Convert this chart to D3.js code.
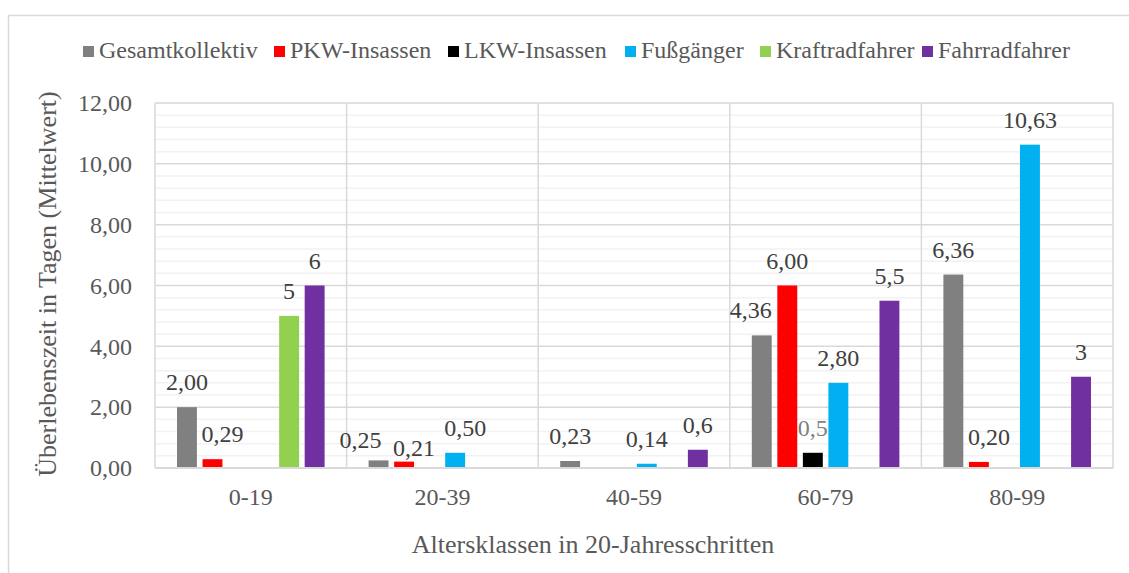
<!DOCTYPE html>
<html>
<head>
<meta charset="utf-8">
<script src="https://cdn.jsdelivr.net/npm/d3@7"></script>
<style>
  body { margin: 0; background: #fff; }
</style>
</head>
<body>
<svg width="1129" height="573" font-family="Liberation Serif"></svg>
<script>
var categories = ["0-19", "20-39", "40-59", "60-79", "80-99"]
var seriesNames = ["Gesamtkollektiv", "PKW-Insassen", "LKW-Insassen", "Fußgänger", "Kraftradfahrer", "Fahrradfahrer"]
var colors = ["#808080", "#ff0000", "#000000", "#00b0f0", "#92d050", "#7030a0"]

// values per series, one per age class (null = no bar)
var gesamt = [2.00, 0.25, 0.23, 4.36, 6.36]
var pkw = [0.29, 0.21, null, 6.00, 0.20]
var lkw = [null, null, null, 0.5, null]
var fuss = [null, 0.50, 0.14, 2.80, 10.63]
var kraftrad = [5, null, null, null, null]
var fahrrad = [6, null, 0.6, 5.5, 3]

// labels as printed in the chart
var gesamtLabels = ["2,00", "0,25", "0,23", "4,36", "6,36"]
var pkwLabels = ["0,29", "0,21", null, "6,00", "0,20"]
var lkwLabels = [null, null, null, "0,5", null]
var fussLabels = [null, "0,50", "0,14", "2,80", "10,63"]
var kraftradLabels = ["5", null, null, null, null]
var fahrradLabels = ["6", null, "0,6", "5,5", "3"]

var yTicks = [0, 2, 4, 6, 8, 10, 12]

var values = [gesamt, pkw, lkw, fuss, kraftrad, fahrrad]
var labels = [gesamtLabels, pkwLabels, lkwLabels, fussLabels, kraftradLabels, fahrradLabels]

// excel moved a few labels aside to avoid overlap
var labelNudge = {
    "PKW-Insassen|0-19": [10, 0],
    "Gesamtkollektiv|20-39": [-18, 5],
    "PKW-Insassen|20-39": [10, 11],
    "Fußgänger|20-39": [10, 0],
    "Gesamtkollektiv|60-79": [-11, 0],
    "PKW-Insassen|80-99": [10, 0]
}

var plot = { left: 155, right: 1113, top: 103, bottom: 468 }
var FONT = "Liberation Serif"

var svg = d3.select("svg")

// outer chart border
svg.append("rect")
    .attr("x", 8.5).attr("y", 15.5)
    .attr("width", 1130).attr("height", 570)
    .attr("fill", "none").attr("stroke", "#d9d9d9").attr("stroke-width", 1.5)

var x0 = d3.scaleBand().domain(categories).range([plot.left, plot.right])
var x1 = d3.scaleBand().domain(seriesNames)
    .range([22, x0.bandwidth() - 22]).paddingInner(0.22)
var y = d3.scaleLinear().domain([0, 12]).range([plot.bottom, plot.top])

var grid = svg.append("g")
// minor gridlines
grid.selectAll("line.minor")
    .data(d3.range(0, 12.01, 0.4).filter(function(v) { return Math.abs(v / 2 - Math.round(v / 2)) > 0.01 }))
    .enter().append("line")
    .attr("x1", plot.left).attr("x2", plot.right)
    .attr("y1", function(d) { return y(d) }).attr("y2", function(d) { return y(d) })
    .attr("stroke", "#f2f2f2").attr("stroke-width", 1.5)
// major gridlines
grid.selectAll("line.major")
    .data(yTicks)
    .enter().append("line")
    .attr("x1", plot.left).attr("x2", plot.right)
    .attr("y1", function(d) { return y(d) }).attr("y2", function(d) { return y(d) })
    .attr("stroke", "#d9d9d9").attr("stroke-width", 1.5)
// vertical category separators
grid.selectAll("line.vert")
    .data(categories.concat(["end"]))
    .enter().append("line")
    .attr("x1", function(d, i) { return plot.left + i * x0.step() })
    .attr("x2", function(d, i) { return plot.left + i * x0.step() })
    .attr("y1", plot.top).attr("y2", plot.bottom)
    .attr("stroke", "#d9d9d9").attr("stroke-width", 1.5)

// y axis
var yAxis = d3.axisLeft(y).tickValues(yTicks).tickSize(0).tickPadding(23)
    .tickFormat(function(d) { return d3.format(".2f")(d).replace(".", ",") })
var ya = svg.append("g").attr("transform", "translate(" + plot.left + ",0)").call(yAxis)
ya.attr("font-family", FONT)
ya.select(".domain").remove()
ya.selectAll("text")
    .attr("font-size", 24)
    .attr("fill", "#595959")

// x axis
var xAxis = d3.axisBottom(x0).tickSize(0).tickPadding(20)
var xa = svg.append("g").attr("transform", "translate(0," + plot.bottom + ")").call(xAxis)
xa.attr("font-family", FONT)
xa.select(".domain").remove()
xa.selectAll("text")
    .attr("font-size", 24)
    .attr("fill", "#595959")

// bars
var rows = []
seriesNames.forEach(function(s, si) {
    categories.forEach(function(c, ci) {
        if (values[si][ci] != null) {
            rows.push({ series: s, cat: c, value: values[si][ci], label: labels[si][ci], color: colors[si] })
        }
    })
})

svg.append("g").selectAll("rect")
    .data(rows)
    .enter().append("rect")
    .attr("x", function(d) { return x0(d.cat) + x1(d.series) })
    .attr("width", x1.bandwidth())
    .attr("y", function(d) { return y(d.value) })
    .attr("height", function(d) { return y(0) - y(d.value) })
    .attr("fill", function(d) { return d.color })

// value labels
svg.append("g").selectAll("text")
    .data(rows)
    .enter().append("text")
    .attr("x", function(d) {
        var n = labelNudge[d.series + "|" + d.cat] || [0, 0]
        return x0(d.cat) + x1(d.series) + x1.bandwidth() / 2 + n[0]
    })
    .attr("y", function(d) {
        var n = labelNudge[d.series + "|" + d.cat] || [0, 0]
        return y(d.value) - 17 + n[1]
    })
    .attr("text-anchor", "middle")
    .attr("font-size", 24)
    .attr("fill", function(d) { return d.series == "LKW-Insassen" ? "#7f7f7f" : "#404040" })
    .text(function(d) { return d.label })

// x axis zero line
svg.append("line")
    .attr("x1", plot.left).attr("x2", plot.right)
    .attr("y1", y(0)).attr("y2", y(0))
    .attr("stroke", "#d9d9d9").attr("stroke-width", 2)

// axis titles
svg.append("text")
    .attr("transform", "translate(56,284) rotate(-90)")
    .attr("text-anchor", "middle")
    .attr("font-size", 26)
    .attr("fill", "#595959")
    .text("Überlebenszeit in Tagen (Mittelwert)")

svg.append("text")
    .attr("x", 593)
    .attr("y", 553)
    .attr("text-anchor", "middle")
    .attr("font-size", 26)
    .attr("fill", "#595959")
    .text("Altersklassen in 20-Jahresschritten")

// legend
var legendX = [83, 274, 448, 625, 760, 922]
var legend = svg.append("g").selectAll("g")
    .data(seriesNames)
    .enter().append("g")
    .attr("transform", function(d, i) { return "translate(" + legendX[i] + ",46)" })
legend.append("rect")
    .attr("width", 11).attr("height", 11)
    .attr("fill", function(d, i) { return colors[i] })
legend.append("text")
    .attr("x", 16).attr("y", 12)
    .attr("font-size", 24)
    .attr("fill", "#595959")
    .text(function(d) { return d })
</script>
</body>
</html>
